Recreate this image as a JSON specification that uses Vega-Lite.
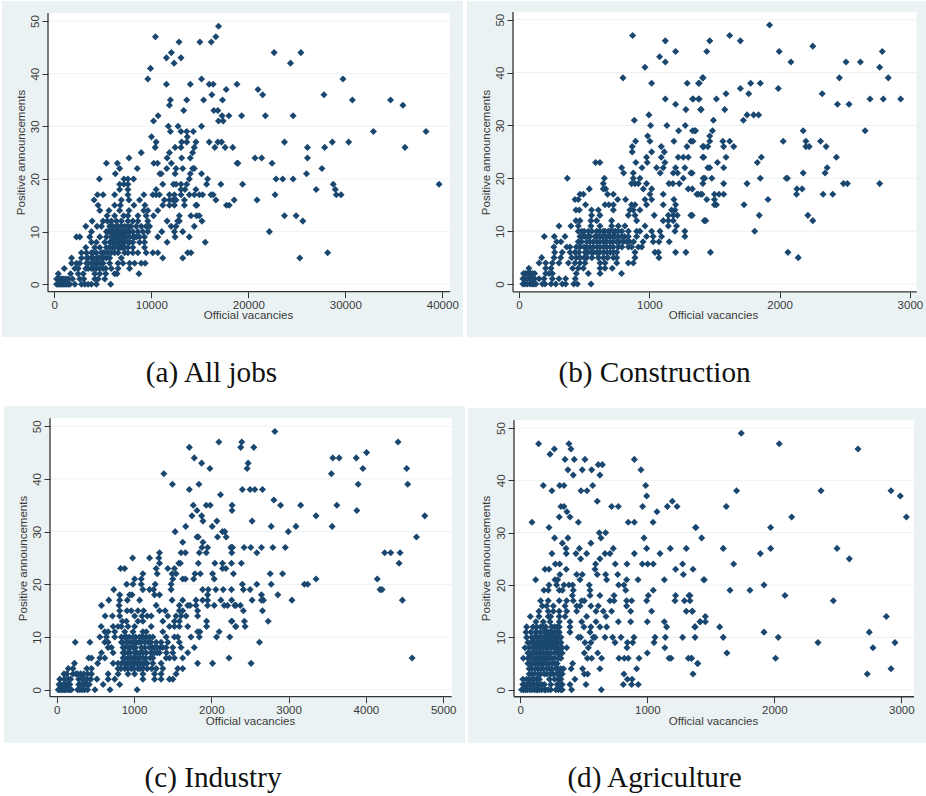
{"$schema":"https://vega.github.io/schema/vega-lite/v6.json","background":"white","padding":{"left":2,"top":1,"right":0,"bottom":0},"config":{"view":{"stroke":null},"axis":{"grid":false,"domain":false,"tickSize":6,"tickWidth":1,"tickColor":"#333333","labelColor":"#3a3a3a","titleColor":"#3a3a3a","labelFont":"Liberation Sans","titleFont":"Liberation Sans","labelFontSize":11.5,"titleFontSize":11.5,"titleFontWeight":"normal","labelBound":false,"labelFlush":false,"labelOverlap":false},"title":{"font":"Liberation Serif","fontSize":29.2,"fontWeight":"normal","color":"#111111"}},
"datasets":{
"gridlines":[{"v":0},{"v":10},{"v":20},{"v":30},{"v":40},{"v":50}],
"one":[{"k":1}],
"a":[{"x":6050,"y":11},{"x":6570,"y":11},{"x":7250,"y":11},{"x":7900,"y":11},{"x":5540,"y":10},{"x":5880,"y":10},{"x":6220,"y":10},{"x":6570,"y":10},{"x":6910,"y":10},{"x":7250,"y":10},{"x":7420,"y":10},{"x":7760,"y":10},{"x":5370,"y":9},{"x":6050,"y":9},{"x":6400,"y":9},{"x":6740,"y":9},{"x":7080,"y":9},{"x":7420,"y":9},{"x":8100,"y":9},{"x":8450,"y":9},{"x":5710,"y":8},{"x":5880,"y":8},{"x":6220,"y":8},{"x":6570,"y":8},{"x":6910,"y":8},{"x":7250,"y":8},{"x":7760,"y":8},{"x":5710,"y":7},{"x":6220,"y":7},{"x":6740,"y":7},{"x":7080,"y":7},{"x":7590,"y":7},{"x":4000,"y":6},{"x":5030,"y":6},{"x":5200,"y":6},{"x":5880,"y":6},{"x":6570,"y":6},{"x":3500,"y":5},{"x":3830,"y":5},{"x":4340,"y":5},{"x":4690,"y":5},{"x":5370,"y":5},{"x":3490,"y":4},{"x":4000,"y":4},{"x":4170,"y":4},{"x":4340,"y":4},{"x":5030,"y":4},{"x":3490,"y":3},{"x":3830,"y":3},{"x":4340,"y":3},{"x":5030,"y":3},{"x":400,"y":1},{"x":700,"y":1},{"x":800,"y":1},{"x":1200,"y":1},{"x":400,"y":0},{"x":750,"y":0},{"x":1100,"y":0},{"x":1450,"y":0},{"x":16930,"y":49},{"x":10430,"y":47},{"x":16650,"y":47},{"x":12860,"y":46},{"x":15010,"y":46},{"x":16180,"y":46},{"x":12070,"y":44},{"x":22660,"y":44},{"x":25420,"y":44},{"x":11560,"y":43},{"x":13060,"y":43},{"x":12350,"y":42},{"x":24350,"y":42},{"x":9920,"y":41},{"x":9640,"y":39},{"x":15180,"y":39},{"x":29760,"y":39},{"x":11560,"y":38},{"x":14020,"y":38},{"x":15970,"y":38},{"x":16380,"y":38},{"x":18830,"y":38},{"x":17720,"y":37},{"x":21000,"y":37},{"x":16240,"y":36},{"x":21480,"y":36},{"x":27800,"y":36},{"x":11970,"y":35},{"x":13650,"y":35},{"x":15390,"y":35},{"x":17340,"y":35},{"x":30730,"y":35},{"x":34660,"y":35},{"x":11870,"y":34},{"x":35940,"y":34},{"x":13340,"y":33},{"x":16450,"y":33},{"x":16860,"y":33},{"x":10700,"y":32},{"x":17300,"y":32},{"x":18000,"y":32},{"x":19310,"y":32},{"x":21760,"y":32},{"x":24620,"y":32},{"x":10230,"y":31},{"x":16930,"y":31},{"x":17410,"y":31},{"x":11760,"y":30},{"x":12760,"y":30},{"x":15180,"y":30},{"x":11970,"y":29},{"x":13060,"y":29},{"x":13650,"y":29},{"x":14330,"y":29},{"x":32900,"y":29},{"x":38320,"y":29},{"x":10020,"y":28},{"x":13710,"y":28},{"x":10500,"y":27},{"x":13130,"y":27},{"x":13650,"y":27},{"x":14600,"y":27},{"x":15970,"y":27},{"x":16860,"y":27},{"x":17240,"y":27},{"x":23730,"y":27},{"x":28660,"y":27},{"x":30350,"y":27},{"x":10400,"y":26},{"x":12450,"y":26},{"x":13060,"y":26},{"x":14430,"y":26},{"x":16550,"y":26},{"x":17610,"y":26},{"x":18400,"y":26},{"x":26100,"y":26},{"x":27870,"y":26},{"x":36150,"y":26},{"x":8960,"y":25},{"x":11870,"y":25},{"x":14260,"y":25},{"x":7700,"y":24},{"x":11630,"y":24},{"x":13130,"y":24},{"x":14020,"y":24},{"x":20690,"y":24},{"x":21380,"y":24},{"x":26100,"y":24},{"x":5370,"y":23},{"x":6500,"y":23},{"x":10260,"y":23},{"x":10640,"y":23},{"x":12070,"y":23},{"x":18840,"y":23},{"x":18930,"y":23},{"x":22450,"y":23},{"x":6740,"y":22},{"x":8550,"y":22},{"x":11590,"y":22},{"x":12550,"y":22},{"x":13240,"y":22},{"x":14260,"y":22},{"x":14430,"y":22},{"x":27590,"y":22},{"x":6290,"y":21},{"x":10880,"y":21},{"x":11020,"y":21},{"x":12450,"y":21},{"x":14020,"y":21},{"x":15180,"y":21},{"x":26000,"y":21},{"x":4650,"y":20},{"x":7180,"y":20},{"x":7590,"y":20},{"x":8170,"y":20},{"x":13920,"y":20},{"x":15800,"y":20},{"x":22860,"y":20},{"x":23550,"y":20},{"x":24620,"y":20},{"x":6740,"y":19},{"x":7180,"y":19},{"x":7590,"y":19},{"x":11180,"y":19},{"x":12280,"y":19},{"x":12550,"y":19},{"x":13060,"y":19},{"x":13650,"y":19},{"x":15700,"y":19},{"x":17170,"y":19},{"x":19410,"y":19},{"x":28760,"y":19},{"x":39670,"y":19},{"x":6740,"y":18},{"x":7590,"y":18},{"x":10500,"y":18},{"x":13060,"y":18},{"x":13470,"y":18},{"x":14600,"y":18},{"x":27000,"y":18},{"x":28970,"y":18},{"x":4450,"y":17},{"x":5030,"y":17},{"x":6220,"y":17},{"x":7590,"y":17},{"x":9230,"y":17},{"x":10160,"y":17},{"x":10500,"y":17},{"x":10840,"y":17},{"x":11870,"y":17},{"x":12380,"y":17},{"x":13060,"y":17},{"x":13920,"y":17},{"x":14430,"y":17},{"x":14950,"y":17},{"x":15290,"y":17},{"x":16150,"y":17},{"x":16380,"y":17},{"x":22760,"y":17},{"x":29070,"y":17},{"x":29560,"y":17},{"x":4100,"y":16},{"x":6910,"y":16},{"x":7700,"y":16},{"x":8790,"y":16},{"x":11350,"y":16},{"x":11870,"y":16},{"x":12210,"y":16},{"x":12550,"y":16},{"x":13410,"y":16},{"x":16660,"y":16},{"x":18540,"y":16},{"x":20900,"y":16},{"x":4510,"y":15},{"x":6220,"y":15},{"x":6810,"y":15},{"x":8210,"y":15},{"x":9340,"y":15},{"x":11180,"y":15},{"x":11870,"y":15},{"x":12380,"y":15},{"x":13410,"y":15},{"x":14600,"y":15},{"x":14700,"y":15},{"x":17750,"y":15},{"x":18030,"y":15},{"x":4690,"y":14},{"x":5640,"y":14},{"x":6740,"y":14},{"x":7700,"y":14},{"x":9230,"y":14},{"x":9640,"y":14},{"x":10670,"y":14},{"x":5440,"y":13},{"x":6220,"y":13},{"x":7150,"y":13},{"x":7590,"y":13},{"x":8620,"y":13},{"x":9470,"y":13},{"x":10230,"y":13},{"x":12890,"y":13},{"x":14090,"y":13},{"x":14670,"y":13},{"x":14950,"y":13},{"x":23730,"y":13},{"x":24930,"y":13},{"x":3900,"y":12},{"x":5030,"y":12},{"x":5470,"y":12},{"x":5880,"y":12},{"x":6400,"y":12},{"x":6910,"y":12},{"x":7590,"y":12},{"x":8100,"y":12},{"x":8620,"y":12},{"x":9640,"y":12},{"x":11630,"y":12},{"x":12720,"y":12},{"x":12890,"y":12},{"x":15220,"y":12},{"x":25620,"y":12},{"x":3250,"y":11},{"x":4410,"y":11},{"x":4860,"y":11},{"x":5710,"y":11},{"x":6400,"y":11},{"x":6910,"y":11},{"x":7590,"y":11},{"x":8450,"y":11},{"x":8960,"y":11},{"x":9470,"y":11},{"x":9820,"y":11},{"x":12040,"y":11},{"x":12550,"y":11},{"x":14430,"y":11},{"x":3830,"y":10},{"x":5370,"y":10},{"x":5710,"y":10},{"x":6050,"y":10},{"x":6400,"y":10},{"x":6740,"y":10},{"x":7080,"y":10},{"x":7590,"y":10},{"x":8100,"y":10},{"x":8620,"y":10},{"x":9130,"y":10},{"x":9640,"y":10},{"x":11080,"y":10},{"x":12380,"y":10},{"x":13240,"y":10},{"x":22170,"y":10},{"x":2290,"y":9},{"x":2630,"y":9},{"x":3660,"y":9},{"x":4690,"y":9},{"x":5880,"y":9},{"x":6220,"y":9},{"x":6570,"y":9},{"x":6910,"y":9},{"x":7250,"y":9},{"x":7760,"y":9},{"x":8280,"y":9},{"x":8790,"y":9},{"x":9300,"y":9},{"x":10670,"y":9},{"x":12450,"y":9},{"x":13920,"y":9},{"x":3830,"y":8},{"x":4340,"y":8},{"x":5200,"y":8},{"x":6050,"y":8},{"x":6400,"y":8},{"x":6740,"y":8},{"x":7080,"y":8},{"x":7590,"y":8},{"x":8100,"y":8},{"x":8790,"y":8},{"x":9300,"y":8},{"x":11630,"y":8},{"x":15560,"y":8},{"x":3250,"y":7},{"x":4170,"y":7},{"x":4690,"y":7},{"x":5370,"y":7},{"x":6050,"y":7},{"x":6570,"y":7},{"x":6910,"y":7},{"x":7250,"y":7},{"x":8100,"y":7},{"x":9300,"y":7},{"x":2800,"y":6},{"x":3320,"y":6},{"x":3830,"y":6},{"x":4340,"y":6},{"x":4860,"y":6},{"x":5540,"y":6},{"x":6220,"y":6},{"x":7250,"y":6},{"x":7590,"y":6},{"x":8100,"y":6},{"x":8620,"y":6},{"x":9470,"y":6},{"x":10160,"y":6},{"x":10670,"y":6},{"x":13750,"y":6},{"x":14090,"y":6},{"x":28180,"y":6},{"x":1780,"y":5},{"x":2800,"y":5},{"x":3320,"y":5},{"x":4000,"y":5},{"x":4510,"y":5},{"x":5030,"y":5},{"x":5710,"y":5},{"x":6910,"y":5},{"x":11180,"y":5},{"x":13240,"y":5},{"x":25310,"y":5},{"x":1780,"y":4},{"x":2290,"y":4},{"x":2630,"y":4},{"x":3320,"y":4},{"x":3830,"y":4},{"x":4510,"y":4},{"x":4860,"y":4},{"x":5710,"y":4},{"x":6570,"y":4},{"x":7080,"y":4},{"x":7760,"y":4},{"x":8280,"y":4},{"x":8960,"y":4},{"x":9370,"y":4},{"x":1030,"y":3},{"x":2120,"y":3},{"x":2460,"y":3},{"x":3250,"y":3},{"x":4000,"y":3},{"x":4690,"y":3},{"x":5300,"y":3},{"x":5880,"y":3},{"x":6570,"y":3},{"x":7760,"y":3},{"x":410,"y":2},{"x":1680,"y":2},{"x":2460,"y":2},{"x":2980,"y":2},{"x":4170,"y":2},{"x":4690,"y":2},{"x":5300,"y":2},{"x":6220,"y":2},{"x":6460,"y":2},{"x":8720,"y":2},{"x":240,"y":1},{"x":580,"y":1},{"x":990,"y":1},{"x":1440,"y":1},{"x":1880,"y":1},{"x":2630,"y":1},{"x":3040,"y":1},{"x":4170,"y":1},{"x":4510,"y":1},{"x":5200,"y":1},{"x":240,"y":0},{"x":580,"y":0},{"x":920,"y":0},{"x":1270,"y":0},{"x":1610,"y":0},{"x":2120,"y":0},{"x":2800,"y":0},{"x":3150,"y":0},{"x":3490,"y":0},{"x":3830,"y":0},{"x":4340,"y":0},{"x":5810,"y":0}],
"b":[{"x":500,"y":10},{"x":560,"y":10},{"x":620,"y":10},{"x":660,"y":10},{"x":700,"y":10},{"x":740,"y":10},{"x":790,"y":10},{"x":490,"y":9},{"x":530,"y":9},{"x":600,"y":9},{"x":640,"y":9},{"x":680,"y":9},{"x":720,"y":9},{"x":760,"y":9},{"x":810,"y":9},{"x":480,"y":8},{"x":520,"y":8},{"x":570,"y":8},{"x":620,"y":8},{"x":670,"y":8},{"x":720,"y":8},{"x":770,"y":8},{"x":850,"y":8},{"x":880,"y":8},{"x":440,"y":7},{"x":500,"y":7},{"x":545,"y":7},{"x":600,"y":7},{"x":650,"y":7},{"x":700,"y":7},{"x":790,"y":7},{"x":840,"y":7},{"x":460,"y":6},{"x":530,"y":6},{"x":570,"y":6},{"x":620,"y":6},{"x":700,"y":6},{"x":750,"y":6},{"x":440,"y":5},{"x":500,"y":5},{"x":560,"y":5},{"x":680,"y":5},{"x":750,"y":5},{"x":50,"y":2},{"x":80,"y":2},{"x":90,"y":2},{"x":120,"y":2},{"x":40,"y":1},{"x":80,"y":1},{"x":90,"y":1},{"x":120,"y":1},{"x":45,"y":0},{"x":85,"y":0},{"x":115,"y":0},{"x":200,"y":0},{"x":1923,"y":49},{"x":872,"y":47},{"x":1617,"y":47},{"x":1123,"y":46},{"x":1464,"y":46},{"x":1699,"y":46},{"x":2255,"y":45},{"x":1202,"y":44},{"x":1441,"y":44},{"x":1997,"y":44},{"x":2788,"y":44},{"x":1079,"y":43},{"x":1123,"y":42},{"x":2087,"y":42},{"x":2510,"y":42},{"x":2620,"y":42},{"x":967,"y":41},{"x":2768,"y":41},{"x":798,"y":39},{"x":1409,"y":39},{"x":1413,"y":39},{"x":2459,"y":39},{"x":2834,"y":39},{"x":1018,"y":38},{"x":1291,"y":38},{"x":1378,"y":38},{"x":1383,"y":38},{"x":1778,"y":38},{"x":1852,"y":38},{"x":1699,"y":37},{"x":1990,"y":37},{"x":1589,"y":36},{"x":1763,"y":36},{"x":2327,"y":36},{"x":1123,"y":35},{"x":1332,"y":35},{"x":1378,"y":35},{"x":1337,"y":35},{"x":1383,"y":35},{"x":1515,"y":35},{"x":2694,"y":35},{"x":2796,"y":35},{"x":2929,"y":35},{"x":1202,"y":34},{"x":2444,"y":34},{"x":2533,"y":34},{"x":1281,"y":33},{"x":1394,"y":33},{"x":1398,"y":33},{"x":1579,"y":33},{"x":997,"y":32},{"x":1750,"y":32},{"x":1801,"y":32},{"x":1839,"y":32},{"x":885,"y":31},{"x":1492,"y":31},{"x":1722,"y":31},{"x":1010,"y":30},{"x":1135,"y":30},{"x":1276,"y":30},{"x":1225,"y":29},{"x":1332,"y":29},{"x":1348,"y":29},{"x":1355,"y":29},{"x":1485,"y":29},{"x":2181,"y":29},{"x":2656,"y":29},{"x":987,"y":28},{"x":1464,"y":28},{"x":895,"y":27},{"x":1005,"y":27},{"x":1189,"y":27},{"x":1319,"y":27},{"x":1335,"y":27},{"x":1464,"y":27},{"x":1564,"y":27},{"x":1617,"y":27},{"x":2028,"y":27},{"x":2202,"y":27},{"x":2314,"y":27},{"x":869,"y":26},{"x":1092,"y":26},{"x":1289,"y":26},{"x":1411,"y":26},{"x":1418,"y":26},{"x":1449,"y":26},{"x":1571,"y":26},{"x":1648,"y":26},{"x":2202,"y":26},{"x":2227,"y":26},{"x":2357,"y":26},{"x":869,"y":25},{"x":1018,"y":25},{"x":1115,"y":25},{"x":979,"y":24},{"x":1092,"y":24},{"x":1222,"y":24},{"x":1261,"y":24},{"x":1299,"y":24},{"x":1411,"y":24},{"x":1418,"y":24},{"x":1589,"y":24},{"x":1860,"y":24},{"x":2436,"y":24},{"x":588,"y":23},{"x":621,"y":23},{"x":897,"y":23},{"x":984,"y":23},{"x":1120,"y":23},{"x":1523,"y":23},{"x":1829,"y":23},{"x":788,"y":22},{"x":944,"y":22},{"x":1056,"y":22},{"x":1107,"y":22},{"x":1202,"y":22},{"x":1273,"y":22},{"x":1449,"y":22},{"x":1464,"y":22},{"x":1571,"y":22},{"x":2365,"y":22},{"x":803,"y":21},{"x":877,"y":21},{"x":1084,"y":21},{"x":1184,"y":21},{"x":1217,"y":21},{"x":1319,"y":21},{"x":1329,"y":21},{"x":2181,"y":21},{"x":2349,"y":21},{"x":371,"y":20},{"x":655,"y":20},{"x":877,"y":20},{"x":928,"y":20},{"x":1261,"y":20},{"x":1414,"y":20},{"x":1426,"y":20},{"x":1480,"y":20},{"x":1852,"y":20},{"x":2051,"y":20},{"x":2060,"y":20},{"x":647,"y":19},{"x":864,"y":19},{"x":890,"y":19},{"x":916,"y":19},{"x":979,"y":19},{"x":1151,"y":19},{"x":1181,"y":19},{"x":1230,"y":19},{"x":1411,"y":19},{"x":1571,"y":19},{"x":1750,"y":19},{"x":2490,"y":19},{"x":2520,"y":19},{"x":2768,"y":19},{"x":540,"y":18},{"x":647,"y":18},{"x":665,"y":18},{"x":954,"y":18},{"x":1018,"y":18},{"x":1299,"y":18},{"x":1330,"y":18},{"x":2133,"y":18},{"x":2173,"y":18},{"x":468,"y":17},{"x":494,"y":17},{"x":680,"y":17},{"x":724,"y":17},{"x":1005,"y":17},{"x":1107,"y":17},{"x":1365,"y":17},{"x":1396,"y":17},{"x":1375,"y":17},{"x":1405,"y":17},{"x":1500,"y":17},{"x":1535,"y":17},{"x":1571,"y":17},{"x":2130,"y":17},{"x":2334,"y":17},{"x":2408,"y":17},{"x":430,"y":16},{"x":455,"y":16},{"x":757,"y":16},{"x":818,"y":16},{"x":967,"y":16},{"x":1018,"y":16},{"x":1189,"y":16},{"x":1441,"y":16},{"x":1500,"y":16},{"x":1911,"y":16},{"x":511,"y":15},{"x":660,"y":15},{"x":690,"y":15},{"x":724,"y":15},{"x":864,"y":15},{"x":890,"y":15},{"x":979,"y":15},{"x":1107,"y":15},{"x":1202,"y":15},{"x":1500,"y":15},{"x":1515,"y":15},{"x":1727,"y":15},{"x":437,"y":14},{"x":463,"y":14},{"x":557,"y":14},{"x":609,"y":14},{"x":724,"y":14},{"x":851,"y":14},{"x":877,"y":14},{"x":928,"y":14},{"x":1171,"y":14},{"x":1197,"y":14},{"x":557,"y":13},{"x":621,"y":13},{"x":839,"y":13},{"x":890,"y":13},{"x":1038,"y":13},{"x":1146,"y":13},{"x":1184,"y":13},{"x":1215,"y":13},{"x":1319,"y":13},{"x":1329,"y":13},{"x":1844,"y":13},{"x":2217,"y":13},{"x":437,"y":12},{"x":468,"y":12},{"x":552,"y":12},{"x":596,"y":12},{"x":711,"y":12},{"x":903,"y":12},{"x":1107,"y":12},{"x":1146,"y":12},{"x":1184,"y":12},{"x":1422,"y":12},{"x":1433,"y":12},{"x":2255,"y":12},{"x":307,"y":11},{"x":399,"y":11},{"x":455,"y":11},{"x":552,"y":11},{"x":621,"y":11},{"x":711,"y":11},{"x":762,"y":11},{"x":813,"y":11},{"x":967,"y":11},{"x":1146,"y":11},{"x":1209,"y":11},{"x":455,"y":10},{"x":481,"y":10},{"x":532,"y":10},{"x":596,"y":10},{"x":647,"y":10},{"x":685,"y":10},{"x":724,"y":10},{"x":762,"y":10},{"x":839,"y":10},{"x":903,"y":10},{"x":928,"y":10},{"x":1018,"y":10},{"x":1082,"y":10},{"x":1197,"y":10},{"x":1273,"y":10},{"x":1809,"y":10},{"x":194,"y":9},{"x":271,"y":9},{"x":353,"y":9},{"x":468,"y":9},{"x":507,"y":9},{"x":545,"y":9},{"x":583,"y":9},{"x":621,"y":9},{"x":660,"y":9},{"x":698,"y":9},{"x":736,"y":9},{"x":787,"y":9},{"x":839,"y":9},{"x":903,"y":9},{"x":979,"y":9},{"x":1030,"y":9},{"x":1094,"y":9},{"x":1273,"y":9},{"x":289,"y":8},{"x":322,"y":8},{"x":455,"y":8},{"x":545,"y":8},{"x":596,"y":8},{"x":647,"y":8},{"x":698,"y":8},{"x":749,"y":8},{"x":800,"y":8},{"x":826,"y":8},{"x":952,"y":8},{"x":1030,"y":8},{"x":1074,"y":8},{"x":1153,"y":8},{"x":268,"y":7},{"x":366,"y":7},{"x":392,"y":7},{"x":468,"y":7},{"x":520,"y":7},{"x":571,"y":7},{"x":622,"y":7},{"x":673,"y":7},{"x":724,"y":7},{"x":762,"y":7},{"x":865,"y":7},{"x":916,"y":7},{"x":942,"y":7},{"x":274,"y":6},{"x":332,"y":6},{"x":392,"y":6},{"x":430,"y":6},{"x":507,"y":6},{"x":558,"y":6},{"x":596,"y":6},{"x":648,"y":6},{"x":674,"y":6},{"x":724,"y":6},{"x":890,"y":6},{"x":1043,"y":6},{"x":1070,"y":6},{"x":1202,"y":6},{"x":1281,"y":6},{"x":1469,"y":6},{"x":2064,"y":6},{"x":174,"y":5},{"x":269,"y":5},{"x":320,"y":5},{"x":404,"y":5},{"x":468,"y":5},{"x":520,"y":5},{"x":609,"y":5},{"x":648,"y":5},{"x":724,"y":5},{"x":890,"y":5},{"x":1074,"y":5},{"x":2143,"y":5},{"x":154,"y":4},{"x":205,"y":4},{"x":256,"y":4},{"x":307,"y":4},{"x":379,"y":4},{"x":430,"y":4},{"x":468,"y":4},{"x":507,"y":4},{"x":622,"y":4},{"x":660,"y":4},{"x":750,"y":4},{"x":839,"y":4},{"x":877,"y":4},{"x":76,"y":3},{"x":205,"y":3},{"x":246,"y":3},{"x":412,"y":3},{"x":455,"y":3},{"x":494,"y":3},{"x":622,"y":3},{"x":660,"y":3},{"x":716,"y":3},{"x":35,"y":2},{"x":64,"y":2},{"x":102,"y":2},{"x":205,"y":2},{"x":231,"y":2},{"x":256,"y":2},{"x":440,"y":2},{"x":532,"y":2},{"x":622,"y":2},{"x":787,"y":2},{"x":30,"y":1},{"x":64,"y":1},{"x":102,"y":1},{"x":154,"y":1},{"x":192,"y":1},{"x":256,"y":1},{"x":307,"y":1},{"x":358,"y":1},{"x":432,"y":1},{"x":30,"y":0},{"x":64,"y":0},{"x":102,"y":0},{"x":130,"y":0},{"x":180,"y":0},{"x":246,"y":0},{"x":282,"y":0},{"x":332,"y":0},{"x":358,"y":0},{"x":420,"y":0},{"x":448,"y":0},{"x":553,"y":0}],
"c":[{"x":4598,"y":6},{"x":880,"y":10},{"x":940,"y":10},{"x":1020,"y":10},{"x":1100,"y":10},{"x":1120,"y":10},{"x":1200,"y":10},{"x":850,"y":9},{"x":920,"y":9},{"x":1000,"y":9},{"x":1060,"y":9},{"x":1140,"y":9},{"x":1220,"y":9},{"x":880,"y":8},{"x":950,"y":8},{"x":1020,"y":8},{"x":1140,"y":8},{"x":1240,"y":8},{"x":1300,"y":8},{"x":1340,"y":8},{"x":880,"y":7},{"x":950,"y":7},{"x":1040,"y":7},{"x":1080,"y":7},{"x":1160,"y":7},{"x":1300,"y":7},{"x":1420,"y":7},{"x":880,"y":6},{"x":960,"y":6},{"x":1020,"y":6},{"x":1080,"y":6},{"x":1150,"y":6},{"x":1210,"y":6},{"x":840,"y":5},{"x":910,"y":5},{"x":980,"y":5},{"x":1040,"y":5},{"x":1110,"y":5},{"x":1170,"y":5},{"x":830,"y":4},{"x":920,"y":4},{"x":1000,"y":4},{"x":1080,"y":4},{"x":1170,"y":4},{"x":1230,"y":4},{"x":130,"y":3},{"x":250,"y":3},{"x":310,"y":3},{"x":400,"y":3},{"x":100,"y":2},{"x":180,"y":2},{"x":360,"y":2},{"x":440,"y":2},{"x":50,"y":1},{"x":110,"y":1},{"x":150,"y":1},{"x":300,"y":1},{"x":360,"y":1},{"x":420,"y":1},{"x":40,"y":0},{"x":80,"y":0},{"x":120,"y":0},{"x":170,"y":0},{"x":300,"y":0},{"x":360,"y":0},{"x":2822,"y":49},{"x":2098,"y":47},{"x":2394,"y":47},{"x":4416,"y":47},{"x":1716,"y":46},{"x":2381,"y":46},{"x":2550,"y":46},{"x":4009,"y":45},{"x":1780,"y":44},{"x":3572,"y":44},{"x":3654,"y":44},{"x":3875,"y":44},{"x":1875,"y":43},{"x":2476,"y":43},{"x":1982,"y":42},{"x":2463,"y":42},{"x":3961,"y":42},{"x":4528,"y":42},{"x":1386,"y":41},{"x":3554,"y":41},{"x":1497,"y":39},{"x":1840,"y":39},{"x":3900,"y":39},{"x":4541,"y":39},{"x":1716,"y":38},{"x":2402,"y":38},{"x":2502,"y":38},{"x":2563,"y":38},{"x":2662,"y":38},{"x":2119,"y":37},{"x":2809,"y":36},{"x":1767,"y":35},{"x":1935,"y":35},{"x":1986,"y":35},{"x":2269,"y":35},{"x":2896,"y":35},{"x":3156,"y":35},{"x":3624,"y":35},{"x":1815,"y":34},{"x":2268,"y":34},{"x":3883,"y":34},{"x":1750,"y":33},{"x":1875,"y":33},{"x":3355,"y":33},{"x":4762,"y":33},{"x":1892,"y":32},{"x":2072,"y":32},{"x":2528,"y":32},{"x":1669,"y":31},{"x":2012,"y":31},{"x":2775,"y":31},{"x":3095,"y":31},{"x":3563,"y":31},{"x":1532,"y":30},{"x":2145,"y":30},{"x":2175,"y":30},{"x":2996,"y":30},{"x":1815,"y":29},{"x":1832,"y":29},{"x":2081,"y":29},{"x":2192,"y":29},{"x":4654,"y":29},{"x":1630,"y":28},{"x":1892,"y":28},{"x":1879,"y":27},{"x":1952,"y":27},{"x":2252,"y":27},{"x":2274,"y":27},{"x":2264,"y":27},{"x":2424,"y":27},{"x":2511,"y":27},{"x":2649,"y":27},{"x":2796,"y":27},{"x":2957,"y":27},{"x":1330,"y":26},{"x":1609,"y":26},{"x":1665,"y":26},{"x":1845,"y":26},{"x":1935,"y":26},{"x":2265,"y":26},{"x":2589,"y":26},{"x":4243,"y":26},{"x":4321,"y":26},{"x":4442,"y":26},{"x":982,"y":25},{"x":1201,"y":25},{"x":1321,"y":25},{"x":1330,"y":24},{"x":1579,"y":24},{"x":1600,"y":24},{"x":1832,"y":24},{"x":2046,"y":24},{"x":2145,"y":24},{"x":2261,"y":24},{"x":2389,"y":24},{"x":4429,"y":24},{"x":828,"y":23},{"x":879,"y":23},{"x":1287,"y":23},{"x":1437,"y":23},{"x":1523,"y":23},{"x":2145,"y":23},{"x":2188,"y":23},{"x":1115,"y":22},{"x":1300,"y":22},{"x":1493,"y":22},{"x":1544,"y":22},{"x":1789,"y":22},{"x":1858,"y":22},{"x":2016,"y":22},{"x":2287,"y":22},{"x":2762,"y":22},{"x":2922,"y":22},{"x":1008,"y":21},{"x":1094,"y":21},{"x":1502,"y":21},{"x":1630,"y":21},{"x":1665,"y":21},{"x":1772,"y":21},{"x":2038,"y":21},{"x":3355,"y":21},{"x":4147,"y":21},{"x":905,"y":20},{"x":987,"y":20},{"x":1094,"y":20},{"x":1274,"y":20},{"x":1480,"y":20},{"x":2402,"y":20},{"x":2589,"y":20},{"x":2775,"y":20},{"x":3204,"y":20},{"x":3247,"y":20},{"x":738,"y":19},{"x":1115,"y":19},{"x":1201,"y":19},{"x":1253,"y":19},{"x":1480,"y":19},{"x":1888,"y":19},{"x":1961,"y":19},{"x":2059,"y":19},{"x":2154,"y":19},{"x":2261,"y":19},{"x":2415,"y":19},{"x":2502,"y":19},{"x":4183,"y":19},{"x":4209,"y":19},{"x":815,"y":18},{"x":944,"y":18},{"x":974,"y":18},{"x":1266,"y":18},{"x":1330,"y":18},{"x":1952,"y":18},{"x":2649,"y":18},{"x":2861,"y":18},{"x":674,"y":17},{"x":815,"y":17},{"x":914,"y":17},{"x":1073,"y":17},{"x":1493,"y":17},{"x":1630,"y":17},{"x":1802,"y":17},{"x":1888,"y":17},{"x":1952,"y":17},{"x":2124,"y":17},{"x":2264,"y":17},{"x":2528,"y":17},{"x":2649,"y":17},{"x":2675,"y":17},{"x":3043,"y":17},{"x":4472,"y":17},{"x":579,"y":16},{"x":807,"y":16},{"x":1287,"y":16},{"x":1587,"y":16},{"x":1695,"y":16},{"x":1725,"y":16},{"x":1802,"y":16},{"x":1952,"y":16},{"x":2038,"y":16},{"x":2167,"y":16},{"x":2210,"y":16},{"x":2318,"y":16},{"x":2303,"y":16},{"x":2376,"y":16},{"x":815,"y":15},{"x":909,"y":15},{"x":965,"y":15},{"x":1051,"y":15},{"x":1124,"y":15},{"x":1330,"y":15},{"x":1403,"y":15},{"x":1587,"y":15},{"x":1630,"y":15},{"x":1823,"y":15},{"x":2415,"y":15},{"x":2662,"y":15},{"x":626,"y":14},{"x":721,"y":14},{"x":815,"y":14},{"x":1008,"y":14},{"x":1103,"y":14},{"x":1171,"y":14},{"x":1223,"y":14},{"x":1437,"y":14},{"x":1544,"y":14},{"x":1609,"y":14},{"x":1673,"y":14},{"x":1823,"y":14},{"x":849,"y":13},{"x":901,"y":13},{"x":1051,"y":13},{"x":1115,"y":13},{"x":1373,"y":13},{"x":1523,"y":13},{"x":1587,"y":13},{"x":1939,"y":13},{"x":2261,"y":13},{"x":2268,"y":13},{"x":2428,"y":13},{"x":2736,"y":13},{"x":575,"y":12},{"x":730,"y":12},{"x":794,"y":12},{"x":837,"y":12},{"x":922,"y":12},{"x":1008,"y":12},{"x":1223,"y":12},{"x":1459,"y":12},{"x":1523,"y":12},{"x":1587,"y":12},{"x":1695,"y":12},{"x":1939,"y":12},{"x":2317,"y":12},{"x":2316,"y":12},{"x":2437,"y":12},{"x":622,"y":11},{"x":665,"y":11},{"x":751,"y":11},{"x":880,"y":11},{"x":987,"y":11},{"x":1115,"y":11},{"x":1158,"y":11},{"x":1373,"y":11},{"x":1823,"y":11},{"x":1853,"y":11},{"x":2102,"y":11},{"x":558,"y":10},{"x":644,"y":10},{"x":751,"y":10},{"x":837,"y":10},{"x":901,"y":10},{"x":987,"y":10},{"x":1072,"y":10},{"x":1158,"y":10},{"x":1244,"y":10},{"x":1416,"y":10},{"x":1523,"y":10},{"x":1566,"y":10},{"x":1737,"y":10},{"x":1845,"y":10},{"x":2068,"y":10},{"x":2239,"y":10},{"x":240,"y":9},{"x":430,"y":9},{"x":622,"y":9},{"x":665,"y":9},{"x":837,"y":9},{"x":901,"y":9},{"x":965,"y":9},{"x":1030,"y":9},{"x":1094,"y":9},{"x":1180,"y":9},{"x":1287,"y":9},{"x":1351,"y":9},{"x":1437,"y":9},{"x":1587,"y":9},{"x":2623,"y":9},{"x":665,"y":8},{"x":708,"y":8},{"x":858,"y":8},{"x":922,"y":8},{"x":987,"y":8},{"x":1094,"y":8},{"x":1201,"y":8},{"x":1266,"y":8},{"x":1373,"y":8},{"x":1416,"y":8},{"x":1502,"y":8},{"x":1609,"y":8},{"x":1780,"y":8},{"x":579,"y":7},{"x":730,"y":7},{"x":858,"y":7},{"x":922,"y":7},{"x":1008,"y":7},{"x":1115,"y":7},{"x":1223,"y":7},{"x":1266,"y":7},{"x":1330,"y":7},{"x":1502,"y":7},{"x":1695,"y":7},{"x":415,"y":6},{"x":450,"y":6},{"x":558,"y":6},{"x":622,"y":6},{"x":858,"y":6},{"x":922,"y":6},{"x":987,"y":6},{"x":1051,"y":6},{"x":1115,"y":6},{"x":1244,"y":6},{"x":1416,"y":6},{"x":1459,"y":6},{"x":1523,"y":6},{"x":1630,"y":6},{"x":2229,"y":6},{"x":230,"y":5},{"x":530,"y":5},{"x":730,"y":5},{"x":794,"y":5},{"x":880,"y":5},{"x":944,"y":5},{"x":1008,"y":5},{"x":1072,"y":5},{"x":1137,"y":5},{"x":1244,"y":5},{"x":1351,"y":5},{"x":1823,"y":5},{"x":2016,"y":5},{"x":2515,"y":5},{"x":150,"y":4},{"x":210,"y":4},{"x":390,"y":4},{"x":450,"y":4},{"x":794,"y":4},{"x":880,"y":4},{"x":965,"y":4},{"x":1051,"y":4},{"x":1115,"y":4},{"x":1287,"y":4},{"x":1373,"y":4},{"x":1566,"y":4},{"x":1630,"y":4},{"x":94,"y":3},{"x":210,"y":3},{"x":270,"y":3},{"x":350,"y":3},{"x":450,"y":3},{"x":665,"y":3},{"x":794,"y":3},{"x":922,"y":3},{"x":1008,"y":3},{"x":1115,"y":3},{"x":1266,"y":3},{"x":1351,"y":3},{"x":1545,"y":3},{"x":40,"y":2},{"x":150,"y":2},{"x":285,"y":2},{"x":330,"y":2},{"x":390,"y":2},{"x":520,"y":2},{"x":665,"y":2},{"x":751,"y":2},{"x":1115,"y":2},{"x":1266,"y":2},{"x":1351,"y":2},{"x":1459,"y":2},{"x":1502,"y":2},{"x":30,"y":1},{"x":85,"y":1},{"x":130,"y":1},{"x":170,"y":1},{"x":285,"y":1},{"x":330,"y":1},{"x":390,"y":1},{"x":600,"y":1},{"x":815,"y":1},{"x":20,"y":0},{"x":60,"y":0},{"x":100,"y":0},{"x":150,"y":0},{"x":190,"y":0},{"x":270,"y":0},{"x":330,"y":0},{"x":400,"y":0},{"x":495,"y":0},{"x":690,"y":0},{"x":1040,"y":0}],
"d":[{"x":100,"y":12},{"x":160,"y":12},{"x":180,"y":12},{"x":200,"y":12},{"x":270,"y":12},{"x":290,"y":12},{"x":120,"y":11},{"x":130,"y":11},{"x":205,"y":11},{"x":235,"y":11},{"x":270,"y":11},{"x":295,"y":11},{"x":90,"y":10},{"x":110,"y":10},{"x":130,"y":10},{"x":205,"y":10},{"x":225,"y":10},{"x":250,"y":10},{"x":280,"y":10},{"x":300,"y":10},{"x":320,"y":10},{"x":60,"y":9},{"x":100,"y":9},{"x":130,"y":9},{"x":170,"y":9},{"x":210,"y":9},{"x":220,"y":9},{"x":250,"y":9},{"x":290,"y":9},{"x":300,"y":9},{"x":70,"y":8},{"x":120,"y":8},{"x":160,"y":8},{"x":200,"y":8},{"x":220,"y":8},{"x":260,"y":8},{"x":300,"y":8},{"x":320,"y":8},{"x":70,"y":7},{"x":110,"y":7},{"x":150,"y":7},{"x":180,"y":7},{"x":220,"y":7},{"x":240,"y":7},{"x":290,"y":7},{"x":310,"y":7},{"x":60,"y":6},{"x":80,"y":6},{"x":115,"y":6},{"x":150,"y":6},{"x":190,"y":6},{"x":230,"y":6},{"x":270,"y":6},{"x":300,"y":6},{"x":80,"y":5},{"x":120,"y":5},{"x":160,"y":5},{"x":200,"y":5},{"x":250,"y":5},{"x":290,"y":5},{"x":90,"y":4},{"x":140,"y":4},{"x":180,"y":4},{"x":230,"y":4},{"x":280,"y":4},{"x":320,"y":4},{"x":70,"y":3},{"x":110,"y":3},{"x":160,"y":3},{"x":210,"y":3},{"x":260,"y":3},{"x":310,"y":3},{"x":70,"y":2},{"x":90,"y":2},{"x":150,"y":2},{"x":230,"y":2},{"x":300,"y":2},{"x":320,"y":2},{"x":20,"y":1},{"x":50,"y":1},{"x":60,"y":1},{"x":100,"y":1},{"x":110,"y":1},{"x":150,"y":1},{"x":170,"y":1},{"x":290,"y":1},{"x":330,"y":1},{"x":25,"y":0},{"x":55,"y":0},{"x":90,"y":0},{"x":125,"y":0},{"x":150,"y":0},{"x":170,"y":0},{"x":190,"y":0},{"x":220,"y":0},{"x":280,"y":0},{"x":300,"y":0},{"x":330,"y":0},{"x":1740,"y":49},{"x":144,"y":47},{"x":383,"y":47},{"x":2039,"y":47},{"x":268,"y":46},{"x":399,"y":46},{"x":2659,"y":46},{"x":234,"y":45},{"x":352,"y":44},{"x":425,"y":44},{"x":509,"y":44},{"x":898,"y":44},{"x":614,"y":43},{"x":646,"y":43},{"x":375,"y":42},{"x":488,"y":42},{"x":562,"y":42},{"x":950,"y":42},{"x":417,"y":41},{"x":627,"y":41},{"x":181,"y":39},{"x":310,"y":39},{"x":344,"y":39},{"x":570,"y":39},{"x":987,"y":39},{"x":249,"y":38},{"x":478,"y":38},{"x":525,"y":38},{"x":1703,"y":38},{"x":2368,"y":38},{"x":2919,"y":38},{"x":995,"y":37},{"x":2992,"y":37},{"x":606,"y":36},{"x":1197,"y":36},{"x":320,"y":35},{"x":344,"y":35},{"x":719,"y":35},{"x":772,"y":35},{"x":963,"y":35},{"x":1158,"y":35},{"x":1234,"y":35},{"x":1622,"y":35},{"x":367,"y":34},{"x":1076,"y":34},{"x":307,"y":33},{"x":391,"y":33},{"x":2137,"y":33},{"x":3040,"y":33},{"x":92,"y":32},{"x":457,"y":32},{"x":850,"y":32},{"x":898,"y":32},{"x":1045,"y":32},{"x":226,"y":31},{"x":1383,"y":31},{"x":1380,"y":31},{"x":1971,"y":31},{"x":622,"y":30},{"x":672,"y":30},{"x":270,"y":29},{"x":375,"y":29},{"x":635,"y":29},{"x":974,"y":29},{"x":1428,"y":29},{"x":331,"y":28},{"x":556,"y":28},{"x":360,"y":27},{"x":465,"y":27},{"x":732,"y":27},{"x":995,"y":27},{"x":1181,"y":27},{"x":1307,"y":27},{"x":1598,"y":27},{"x":1971,"y":27},{"x":2494,"y":27},{"x":249,"y":26},{"x":362,"y":26},{"x":438,"y":26},{"x":522,"y":26},{"x":667,"y":26},{"x":706,"y":26},{"x":898,"y":26},{"x":1100,"y":26},{"x":1890,"y":26},{"x":475,"y":25},{"x":627,"y":25},{"x":2591,"y":25},{"x":276,"y":24},{"x":310,"y":24},{"x":593,"y":24},{"x":748,"y":24},{"x":840,"y":24},{"x":961,"y":24},{"x":1003,"y":24},{"x":1047,"y":24},{"x":1278,"y":24},{"x":1680,"y":24},{"x":194,"y":23},{"x":226,"y":23},{"x":362,"y":23},{"x":588,"y":23},{"x":1223,"y":23},{"x":1360,"y":23},{"x":312,"y":22},{"x":444,"y":22},{"x":488,"y":22},{"x":606,"y":22},{"x":672,"y":22},{"x":767,"y":22},{"x":1284,"y":22},{"x":121,"y":21},{"x":273,"y":21},{"x":294,"y":21},{"x":470,"y":21},{"x":680,"y":21},{"x":837,"y":21},{"x":927,"y":21},{"x":1134,"y":21},{"x":1444,"y":21},{"x":1449,"y":21},{"x":226,"y":20},{"x":286,"y":20},{"x":344,"y":20},{"x":383,"y":20},{"x":412,"y":20},{"x":543,"y":20},{"x":774,"y":20},{"x":816,"y":20},{"x":1919,"y":20},{"x":186,"y":19},{"x":220,"y":19},{"x":307,"y":19},{"x":331,"y":19},{"x":417,"y":19},{"x":549,"y":19},{"x":830,"y":19},{"x":1047,"y":19},{"x":1651,"y":19},{"x":1808,"y":19},{"x":410,"y":18},{"x":549,"y":18},{"x":627,"y":18},{"x":738,"y":18},{"x":1008,"y":18},{"x":1223,"y":18},{"x":1328,"y":18},{"x":1336,"y":18},{"x":2084,"y":18},{"x":160,"y":17},{"x":220,"y":17},{"x":307,"y":17},{"x":365,"y":17},{"x":417,"y":17},{"x":483,"y":17},{"x":504,"y":17},{"x":706,"y":17},{"x":738,"y":17},{"x":837,"y":17},{"x":877,"y":17},{"x":995,"y":17},{"x":1218,"y":17},{"x":1292,"y":17},{"x":1336,"y":17},{"x":2465,"y":17},{"x":173,"y":16},{"x":207,"y":16},{"x":260,"y":16},{"x":352,"y":16},{"x":444,"y":16},{"x":470,"y":16},{"x":556,"y":16},{"x":614,"y":16},{"x":837,"y":16},{"x":147,"y":15},{"x":220,"y":15},{"x":260,"y":15},{"x":307,"y":15},{"x":365,"y":15},{"x":444,"y":15},{"x":596,"y":15},{"x":654,"y":15},{"x":719,"y":15},{"x":869,"y":15},{"x":1034,"y":15},{"x":1307,"y":15},{"x":1355,"y":15},{"x":1354,"y":15},{"x":79,"y":14},{"x":147,"y":14},{"x":220,"y":14},{"x":239,"y":14},{"x":307,"y":14},{"x":352,"y":14},{"x":522,"y":14},{"x":675,"y":14},{"x":1457,"y":14},{"x":2882,"y":14},{"x":123,"y":13},{"x":181,"y":13},{"x":234,"y":13},{"x":307,"y":13},{"x":391,"y":13},{"x":483,"y":13},{"x":596,"y":13},{"x":772,"y":13},{"x":869,"y":13},{"x":1000,"y":13},{"x":1134,"y":13},{"x":1415,"y":13},{"x":1417,"y":13},{"x":1457,"y":13},{"x":50,"y":12},{"x":129,"y":12},{"x":247,"y":12},{"x":307,"y":12},{"x":391,"y":12},{"x":501,"y":12},{"x":556,"y":12},{"x":627,"y":12},{"x":680,"y":12},{"x":1152,"y":12},{"x":1376,"y":12},{"x":1375,"y":12},{"x":1570,"y":12},{"x":45,"y":11},{"x":84,"y":11},{"x":160,"y":11},{"x":190,"y":11},{"x":220,"y":11},{"x":247,"y":11},{"x":307,"y":11},{"x":391,"y":11},{"x":549,"y":11},{"x":1919,"y":11},{"x":2748,"y":11},{"x":50,"y":10},{"x":150,"y":10},{"x":170,"y":10},{"x":190,"y":10},{"x":215,"y":10},{"x":240,"y":10},{"x":260,"y":10},{"x":457,"y":10},{"x":475,"y":10},{"x":575,"y":10},{"x":588,"y":10},{"x":667,"y":10},{"x":727,"y":10},{"x":793,"y":10},{"x":895,"y":10},{"x":1061,"y":10},{"x":1142,"y":10},{"x":1278,"y":10},{"x":1376,"y":10},{"x":1598,"y":10},{"x":2031,"y":10},{"x":84,"y":9},{"x":110,"y":9},{"x":150,"y":9},{"x":190,"y":9},{"x":235,"y":9},{"x":270,"y":9},{"x":320,"y":9},{"x":509,"y":9},{"x":556,"y":9},{"x":746,"y":9},{"x":843,"y":9},{"x":885,"y":9},{"x":1053,"y":9},{"x":2344,"y":9},{"x":2950,"y":9},{"x":37,"y":8},{"x":100,"y":8},{"x":140,"y":8},{"x":180,"y":8},{"x":240,"y":8},{"x":280,"y":8},{"x":330,"y":8},{"x":365,"y":8},{"x":536,"y":8},{"x":840,"y":8},{"x":1138,"y":8},{"x":2777,"y":8},{"x":60,"y":7},{"x":90,"y":7},{"x":130,"y":7},{"x":160,"y":7},{"x":200,"y":7},{"x":270,"y":7},{"x":330,"y":7},{"x":504,"y":7},{"x":609,"y":7},{"x":1000,"y":7},{"x":1627,"y":7},{"x":24,"y":6},{"x":100,"y":6},{"x":130,"y":6},{"x":170,"y":6},{"x":210,"y":6},{"x":250,"y":6},{"x":320,"y":6},{"x":528,"y":6},{"x":562,"y":6},{"x":640,"y":6},{"x":777,"y":6},{"x":819,"y":6},{"x":850,"y":6},{"x":935,"y":6},{"x":1171,"y":6},{"x":1187,"y":6},{"x":1323,"y":6},{"x":1349,"y":6},{"x":1346,"y":6},{"x":2010,"y":6},{"x":60,"y":5},{"x":100,"y":5},{"x":140,"y":5},{"x":180,"y":5},{"x":225,"y":5},{"x":270,"y":5},{"x":412,"y":5},{"x":1397,"y":5},{"x":1396,"y":5},{"x":70,"y":4},{"x":120,"y":4},{"x":160,"y":4},{"x":210,"y":4},{"x":250,"y":4},{"x":300,"y":4},{"x":340,"y":4},{"x":400,"y":4},{"x":490,"y":4},{"x":627,"y":4},{"x":916,"y":4},{"x":2919,"y":4},{"x":90,"y":3},{"x":140,"y":3},{"x":190,"y":3},{"x":240,"y":3},{"x":290,"y":3},{"x":330,"y":3},{"x":504,"y":3},{"x":530,"y":3},{"x":816,"y":3},{"x":1360,"y":3},{"x":2732,"y":3},{"x":20,"y":2},{"x":50,"y":2},{"x":110,"y":2},{"x":130,"y":2},{"x":270,"y":2},{"x":430,"y":2},{"x":843,"y":2},{"x":880,"y":2},{"x":30,"y":1},{"x":80,"y":1},{"x":130,"y":1},{"x":190,"y":1},{"x":240,"y":1},{"x":310,"y":1},{"x":391,"y":1},{"x":517,"y":1},{"x":811,"y":1},{"x":877,"y":1},{"x":929,"y":1},{"x":10,"y":0},{"x":40,"y":0},{"x":75,"y":0},{"x":110,"y":0},{"x":135,"y":0},{"x":200,"y":0},{"x":240,"y":0},{"x":320,"y":0},{"x":404,"y":0},{"x":638,"y":0}]
},
"vconcat":[
{"hconcat":[
{"width":463,"height":337,"title":{"text":"(a) All jobs","orient":"bottom","dx":-22,"offset":21},"layer":[
{"data":{"name":"one"},"mark":{"type":"rect","color":"#eaf2f3"},"encoding":{"x":{"datum":-5392,"type":"quantitative","scale":{"domain":[-5392,42340],"nice":false,"zero":false},"axis":{"title":"Official vacancies","zindex":1,"values":[0,10000,20000,30000,40000],"format":"d","offset":-46.3,"titleX":246,"titleY":24,"titleBaseline":"middle"}},"x2":{"datum":42134},"y":{"datum":53.8,"type":"quantitative","scale":{"domain":[-10.2,53.8],"nice":false,"zero":false},"axis":{"title":"Positive announcements","zindex":1,"values":[0,10,20,30,40,50],"labelAngle":-90,"labelPadding":2,"offset":-46,"titleX":-27,"titleY":151,"titleBaseline":"middle","titleAngle":-90}},"y2":{"datum":-10}}},
{"data":{"name":"one"},"mark":{"type":"rect","color":"#ffffff"},"encoding":{"x":{"datum":-649,"type":"quantitative"},"x2":{"datum":40794},"y":{"datum":51.52,"type":"quantitative"},"y2":{"datum":-1.4}}},
{"data":{"name":"gridlines"},"mark":{"type":"rule","color":"#eaf2f3","strokeWidth":1},"encoding":{"x":{"datum":-649,"type":"quantitative"},"x2":{"datum":40794},"y":{"field":"v","type":"quantitative"}}},
{"data":{"name":"one"},"mark":{"type":"rule","color":"#333333","strokeWidth":1.3},"encoding":{"x":{"datum":-649,"type":"quantitative"},"x2":{"datum":40794},"y":{"datum":-1.4,"type":"quantitative"}}},
{"data":{"name":"one"},"mark":{"type":"rule","color":"#333333","strokeWidth":1.3},"encoding":{"x":{"datum":-649,"type":"quantitative"},"y":{"datum":51.52,"type":"quantitative"},"y2":{"datum":-1.4}}},
{"data":{"name":"a"},"mark":{"type":"point","shape":"diamond","filled":true,"size":50,"opacity":1,"color":"#1a476f"},"encoding":{"x":{"field":"x","type":"quantitative"},"y":{"field":"y","type":"quantitative"}}}
]},
{"width":459,"height":337,"title":{"text":"(b) Construction","orient":"bottom","dx":-42,"offset":21},"layer":[
{"data":{"name":"one"},"mark":{"type":"rect","color":"#eaf2f3"},"encoding":{"x":{"datum":-399,"type":"quantitative","scale":{"domain":[-399,3123.6],"nice":false,"zero":false},"axis":{"title":"Official vacancies","zindex":1,"values":[0,1000,2000,3000],"format":"d","offset":-46.3,"titleX":246,"titleY":24,"titleBaseline":"middle"}},"x2":{"datum":3123.6},"y":{"datum":53.54,"type":"quantitative","scale":{"domain":[-10.2,53.54],"nice":false,"zero":false},"axis":{"title":"Positive announcements","zindex":1,"values":[0,10,20,30,40,50],"labelAngle":-90,"labelPadding":2,"offset":-46,"titleX":-27,"titleY":151,"titleBaseline":"middle","titleAngle":-90}},"y2":{"datum":-10.03}}},
{"data":{"name":"one"},"mark":{"type":"rect","color":"#ffffff"},"encoding":{"x":{"datum":-46,"type":"quantitative"},"x2":{"datum":3052},"y":{"datum":51.46,"type":"quantitative"},"y2":{"datum":-1.46}}},
{"data":{"name":"gridlines"},"mark":{"type":"rule","color":"#eaf2f3","strokeWidth":1},"encoding":{"x":{"datum":-46,"type":"quantitative"},"x2":{"datum":3052},"y":{"field":"v","type":"quantitative"}}},
{"data":{"name":"one"},"mark":{"type":"rule","color":"#333333","strokeWidth":1.3},"encoding":{"x":{"datum":-46,"type":"quantitative"},"x2":{"datum":3052},"y":{"datum":-1.46,"type":"quantitative"}}},
{"data":{"name":"one"},"mark":{"type":"rule","color":"#333333","strokeWidth":1.3},"encoding":{"x":{"datum":-46,"type":"quantitative"},"y":{"datum":51.46,"type":"quantitative"},"y2":{"datum":-1.46}}},
{"data":{"name":"b"},"mark":{"type":"point","shape":"diamond","filled":true,"size":50,"opacity":1,"color":"#1a476f"},"encoding":{"x":{"field":"x","type":"quantitative"},"y":{"field":"y","type":"quantitative"}}}
]}
],"spacing":2},
{"hconcat":[
{"width":463,"height":337,"title":{"text":"(c) Industry","orient":"bottom","dx":-20.5,"offset":21},"layer":[
{"data":{"name":"one"},"mark":{"type":"rect","color":"#eaf2f3"},"encoding":{"x":{"datum":-682,"type":"quantitative","scale":{"domain":[-707.6,5282],"nice":false,"zero":false},"axis":{"title":"Official vacancies","zindex":1,"values":[0,1000,2000,3000,4000,5000],"format":"d","offset":-46.3,"titleX":248,"titleY":24.3,"titleBaseline":"middle"}},"x2":{"datum":5282},"y":{"datum":53.85,"type":"quantitative","scale":{"domain":[-10.12,53.85],"nice":false,"zero":false},"axis":{"title":"Positive announcements","zindex":1,"values":[0,10,20,30,40,50],"labelAngle":-90,"labelPadding":2,"offset":-48,"titleX":-27,"titleY":152,"titleBaseline":"middle","titleAngle":-90}},"y2":{"datum":-10.12}}},
{"data":{"name":"one"},"mark":{"type":"rect","color":"#ffffff"},"encoding":{"x":{"datum":-86.7,"type":"quantitative"},"x2":{"datum":5110},"y":{"datum":51.52,"type":"quantitative"},"y2":{"datum":-1.33}}},
{"data":{"name":"gridlines"},"mark":{"type":"rule","color":"#eaf2f3","strokeWidth":1},"encoding":{"x":{"datum":-86.7,"type":"quantitative"},"x2":{"datum":5110},"y":{"field":"v","type":"quantitative"}}},
{"data":{"name":"one"},"mark":{"type":"rule","color":"#333333","strokeWidth":1.3},"encoding":{"x":{"datum":-86.7,"type":"quantitative"},"x2":{"datum":5110},"y":{"datum":-1.33,"type":"quantitative"}}},
{"data":{"name":"one"},"mark":{"type":"rule","color":"#333333","strokeWidth":1.3},"encoding":{"x":{"datum":-86.7,"type":"quantitative"},"y":{"datum":51.52,"type":"quantitative"},"y2":{"datum":-1.33}}},
{"data":{"name":"c"},"mark":{"type":"point","shape":"diamond","filled":true,"size":50,"opacity":1,"color":"#1a476f"},"encoding":{"x":{"field":"x","type":"quantitative"},"y":{"field":"y","type":"quantitative"}}}
]},
{"width":459,"height":337,"title":{"text":"(d) Agriculture","orient":"bottom","dx":-42,"offset":21},"layer":[
{"data":{"name":"one"},"mark":{"type":"rect","color":"#eaf2f3"},"encoding":{"x":{"datum":-412,"type":"quantitative","scale":{"domain":[-419.7,3194.5],"nice":false,"zero":false},"axis":{"title":"Official vacancies","zindex":1,"values":[0,1000,2000,3000],"format":"d","offset":-46.3,"titleX":246,"titleY":24.3,"titleBaseline":"middle"}},"x2":{"datum":3194.5},"y":{"datum":53.8,"type":"quantitative","scale":{"domain":[-10.18,54.2],"nice":false,"zero":false},"axis":{"title":"Positive announcements","zindex":1,"values":[0,10,20,30,40,50],"labelAngle":-90,"labelPadding":2,"offset":-47,"titleX":-28,"titleY":152,"titleBaseline":"middle","titleAngle":-90}},"y2":{"datum":-10.18}}},
{"data":{"name":"one"},"mark":{"type":"rect","color":"#ffffff"},"encoding":{"x":{"datum":-49.6,"type":"quantitative"},"x2":{"datum":3100},"y":{"datum":51.5,"type":"quantitative"},"y2":{"datum":-1.34}}},
{"data":{"name":"gridlines"},"mark":{"type":"rule","color":"#eaf2f3","strokeWidth":1},"encoding":{"x":{"datum":-49.6,"type":"quantitative"},"x2":{"datum":3100},"y":{"field":"v","type":"quantitative"}}},
{"data":{"name":"one"},"mark":{"type":"rule","color":"#333333","strokeWidth":1.3},"encoding":{"x":{"datum":-49.6,"type":"quantitative"},"x2":{"datum":3100},"y":{"datum":-1.34,"type":"quantitative"}}},
{"data":{"name":"one"},"mark":{"type":"rule","color":"#333333","strokeWidth":1.3},"encoding":{"x":{"datum":-49.6,"type":"quantitative"},"y":{"datum":51.5,"type":"quantitative"},"y2":{"datum":-1.34}}},
{"data":{"name":"d"},"mark":{"type":"point","shape":"diamond","filled":true,"size":50,"opacity":1,"color":"#1a476f"},"encoding":{"x":{"field":"x","type":"quantitative"},"y":{"field":"y","type":"quantitative"}}}
]}
],"spacing":2}
],"spacing":17}
